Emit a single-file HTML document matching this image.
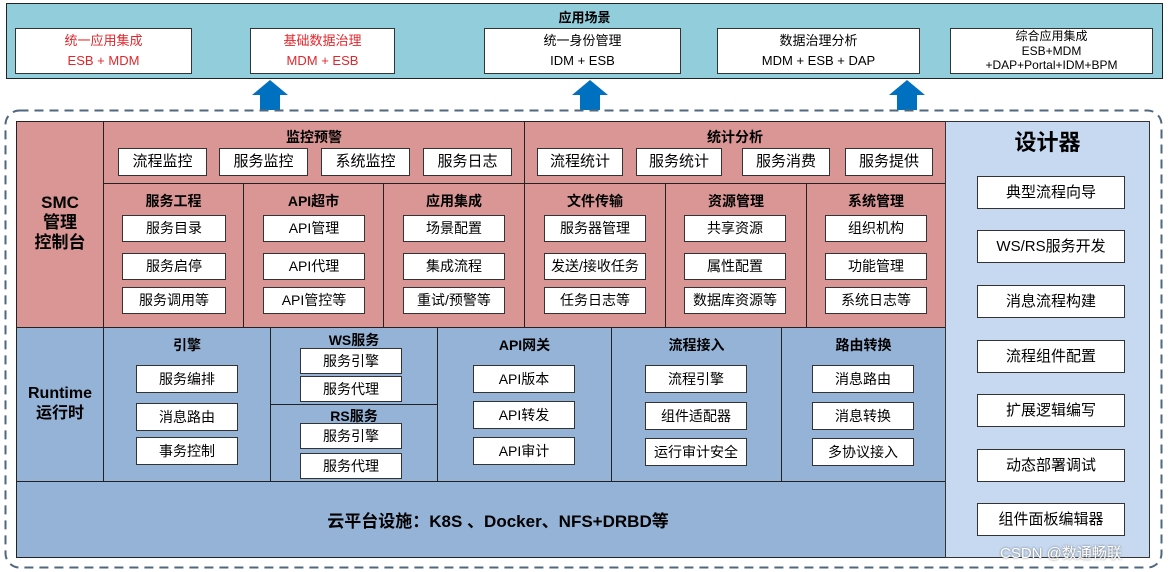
<!DOCTYPE html>
<html><head><meta charset="utf-8"><style>
*{margin:0;padding:0;box-sizing:border-box}
body{width:1171px;height:572px;background:#fff;position:relative;overflow:hidden;font-family:"Liberation Sans","Noto Sans CJK SC",sans-serif;color:#000}
div{position:absolute}
.b{background:#fff;border:1px solid #333;display:flex;align-items:center;justify-content:center;font-size:14px;text-align:center;line-height:1.3}
.t{font-weight:bold;font-size:14px;text-align:center}
.p{background:#d99694;border:1px solid #222}
.u{background:#95b3d7;border:1px solid #222}
.red{color:#e3262b}
</style></head><body>
<div style="left:6px;top:3px;width:1157px;height:76px;background:#92cddc;border:1px solid #222"></div>
<div class="t" style="left:6px;top:7px;width:1157px;font-size:13px">应用场景</div>
<div class="b red" style="left:15px;top:28px;width:177px;height:46px;font-size:13px;line-height:1.55">统一应用集成<br>ESB + MDM</div>
<div class="b red" style="left:250px;top:28px;width:145px;height:46px;font-size:13px;line-height:1.55">基础数据治理<br>MDM + ESB</div>
<div class="b" style="left:484px;top:28px;width:197px;height:46px;font-size:13px;line-height:1.55">统一身份管理<br>IDM + ESB</div>
<div class="b" style="left:717px;top:28px;width:203px;height:46px;font-size:13px;line-height:1.55">数据治理分析<br>MDM + ESB + DAP</div>
<div class="b" style="left:950px;top:28px;width:203px;height:46px;font-size:12px;line-height:1.2">综合应用集成<br>ESB+MDM<br>+DAP+Portal+IDM+BPM</div>
<svg style="position:absolute;left:0;top:0" width="1171" height="572">
<g fill="#0070c0">
<polygon points="252,95 270,80 288,95 280,95 280,110 260,110 260,95"/>
<polygon points="572,95 590,80 608,95 600,95 600,110 580,110 580,95"/>
<polygon points="889,95 907,80 925,95 917,95 917,110 897,110 897,95"/>
</g>
<rect x="5.5" y="110.5" width="1156" height="457" rx="14" fill="none" stroke="#4f6880" stroke-width="2" stroke-dasharray="9,6"/>
</svg>
<!-- SMC -->
<div class="p" style="left:16px;top:121px;width:88px;height:207px"></div>
<div class="t" style="left:16px;top:193px;width:88px;font-size:17px;line-height:20px">SMC<br>管理<br>控制台</div>
<div class="p" style="left:103px;top:121px;width:422px;height:63px"></div>
<div class="p" style="left:524px;top:121px;width:422px;height:63px"></div>
<div class="t" style="left:103px;top:127px;width:422px">监控预警</div>
<div class="t" style="left:524px;top:127px;width:422px">统计分析</div>
<div class="b" style="left:118px;top:148px;width:89px;height:28px;font-size:15px">流程监控</div>
<div class="b" style="left:219px;top:148px;width:89px;height:28px;font-size:15px">服务监控</div>
<div class="b" style="left:321px;top:148px;width:89px;height:28px;font-size:15px">系统监控</div>
<div class="b" style="left:423px;top:148px;width:89px;height:28px;font-size:15px">服务日志</div>
<div class="b" style="left:537px;top:148px;width:86px;height:28px;font-size:15px">流程统计</div>
<div class="b" style="left:636px;top:148px;width:86px;height:28px;font-size:15px">服务统计</div>
<div class="b" style="left:742px;top:148px;width:88px;height:28px;font-size:15px">服务消费</div>
<div class="b" style="left:845px;top:148px;width:88px;height:28px;font-size:15px">服务提供</div>
<!-- row2 -->
<div class="p" style="left:103px;top:183px;width:141px;height:145px"></div>
<div class="p" style="left:243px;top:183px;width:141px;height:145px"></div>
<div class="p" style="left:383px;top:183px;width:142px;height:145px"></div>
<div class="p" style="left:524px;top:183px;width:142px;height:145px"></div>
<div class="p" style="left:665px;top:183px;width:142px;height:145px"></div>
<div class="p" style="left:806px;top:183px;width:140px;height:145px"></div>
<div class="t" style="left:103px;top:191px;width:141px">服务工程</div>
<div class="t" style="left:243px;top:191px;width:141px">API超市</div>
<div class="t" style="left:383px;top:191px;width:142px">应用集成</div>
<div class="t" style="left:524px;top:191px;width:142px">文件传输</div>
<div class="t" style="left:665px;top:191px;width:142px">资源管理</div>
<div class="t" style="left:806px;top:191px;width:140px">系统管理</div>
<div class="b" style="left:122px;top:215px;width:104px;height:27px">服务目录</div>
<div class="b" style="left:122px;top:253px;width:104px;height:27px">服务启停</div>
<div class="b" style="left:122px;top:287px;width:104px;height:27px">服务调用等</div>
<div class="b" style="left:263px;top:215px;width:102px;height:27px">API管理</div>
<div class="b" style="left:263px;top:253px;width:102px;height:27px">API代理</div>
<div class="b" style="left:263px;top:287px;width:102px;height:27px">API管控等</div>
<div class="b" style="left:403px;top:215px;width:102px;height:27px">场景配置</div>
<div class="b" style="left:403px;top:253px;width:102px;height:27px">集成流程</div>
<div class="b" style="left:403px;top:287px;width:102px;height:27px">重试/预警等</div>
<div class="b" style="left:544px;top:215px;width:102px;height:27px">服务器管理</div>
<div class="b" style="left:544px;top:253px;width:102px;height:27px">发送/接收任务</div>
<div class="b" style="left:544px;top:287px;width:102px;height:27px">任务日志等</div>
<div class="b" style="left:684px;top:215px;width:102px;height:27px">共享资源</div>
<div class="b" style="left:684px;top:253px;width:102px;height:27px">属性配置</div>
<div class="b" style="left:684px;top:287px;width:102px;height:27px">数据库资源等</div>
<div class="b" style="left:825px;top:215px;width:102px;height:27px">组织机构</div>
<div class="b" style="left:825px;top:253px;width:102px;height:27px">功能管理</div>
<div class="b" style="left:825px;top:287px;width:102px;height:27px">系统日志等</div>
<!-- Runtime -->
<div class="u" style="left:16px;top:327px;width:88px;height:155px"></div>
<div class="t" style="left:16px;top:384px;width:88px;font-size:16px;line-height:20px">Runtime<br>运行时</div>
<div class="u" style="left:103px;top:327px;width:168px;height:155px"></div>
<div class="u" style="left:270px;top:327px;width:168px;height:78px"></div>
<div class="u" style="left:270px;top:404px;width:168px;height:78px"></div>
<div class="u" style="left:437px;top:327px;width:175px;height:155px"></div>
<div class="u" style="left:611px;top:327px;width:171px;height:155px"></div>
<div class="u" style="left:781px;top:327px;width:165px;height:155px"></div>
<div class="t" style="left:103px;top:335px;width:168px">引擎</div>
<div class="t" style="left:270px;top:330px;width:168px">WS服务</div>
<div class="t" style="left:270px;top:406px;width:168px">RS服务</div>
<div class="t" style="left:437px;top:335px;width:175px">API网关</div>
<div class="t" style="left:611px;top:335px;width:171px">流程接入</div>
<div class="t" style="left:781px;top:335px;width:165px">路由转换</div>
<div class="b" style="left:136px;top:365px;width:102px;height:28px">服务编排</div>
<div class="b" style="left:136px;top:403px;width:102px;height:28px">消息路由</div>
<div class="b" style="left:136px;top:437px;width:102px;height:28px">事务控制</div>
<div class="b" style="left:300px;top:348px;width:102px;height:26px">服务引擎</div>
<div class="b" style="left:300px;top:376px;width:102px;height:26px">服务代理</div>
<div class="b" style="left:300px;top:423px;width:102px;height:26px">服务引擎</div>
<div class="b" style="left:300px;top:453px;width:102px;height:26px">服务代理</div>
<div class="b" style="left:473px;top:365px;width:102px;height:28px">API版本</div>
<div class="b" style="left:473px;top:401px;width:102px;height:28px">API转发</div>
<div class="b" style="left:473px;top:437px;width:102px;height:28px">API审计</div>
<div class="b" style="left:645px;top:365px;width:102px;height:28px">流程引擎</div>
<div class="b" style="left:645px;top:402px;width:102px;height:28px">组件适配器</div>
<div class="b" style="left:645px;top:438px;width:102px;height:28px">运行审计安全</div>
<div class="b" style="left:812px;top:365px;width:102px;height:28px">消息路由</div>
<div class="b" style="left:812px;top:402px;width:102px;height:28px">消息转换</div>
<div class="b" style="left:812px;top:438px;width:102px;height:28px">多协议接入</div>
<!-- cloud -->
<div class="u" style="left:16px;top:481px;width:930px;height:77px"></div>
<div class="t" style="left:16px;top:507px;width:964px;font-size:17px">云平台设施：K8S 、Docker、NFS+DRBD等</div>
<!-- designer -->
<div style="left:945px;top:121px;width:205px;height:437px;background:#c6d9f1;border:1px solid #333"></div>
<div class="t" style="left:945px;top:125px;width:205px;font-size:22px">设计器</div>
<div class="b" style="left:977px;top:176px;width:148px;height:33px;font-size:15px">典型流程向导</div>
<div class="b" style="left:977px;top:230px;width:148px;height:33px;font-size:15px">WS/RS服务开发</div>
<div class="b" style="left:977px;top:285px;width:148px;height:33px;font-size:15px">消息流程构建</div>
<div class="b" style="left:977px;top:340px;width:148px;height:33px;font-size:15px">流程组件配置</div>
<div class="b" style="left:977px;top:394px;width:148px;height:33px;font-size:15px">扩展逻辑编写</div>
<div class="b" style="left:977px;top:449px;width:148px;height:33px;font-size:15px">动态部署调试</div>
<div class="b" style="left:977px;top:503px;width:148px;height:33px;font-size:15px">组件面板编辑器</div>
<div style="left:1000px;top:542px;font-size:15px;color:#fff;text-shadow:0 0 2px #666">CSDN @数通畅联</div>
</body></html>
